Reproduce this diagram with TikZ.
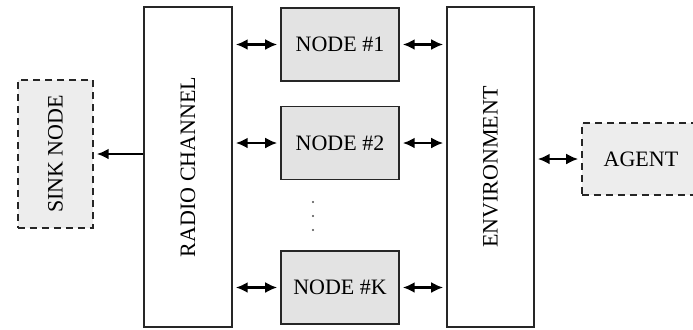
\documentclass[tikz,border=0pt]{standalone}
\usepackage{fontspec}
\setmainfont{Liberation Serif}
\usetikzlibrary{arrows.meta}
\begin{document}
\begin{tikzpicture}[x=0.5pt,y=-0.5pt,
  font=\fontsize{11}{13}\selectfont,
  block/.style={draw=black!85,line width=0.75pt,inner sep=0pt,align=center},
  tallbox/.style={block,fill=white,minimum height=160pt},
  nodebox/.style={block,fill=black!11,minimum width=59pt,minimum height=36.5pt},
  extbox/.style={block,fill=black!7,dash pattern=on 3.5pt off 2.5pt},
  link/.style={line width=1.2pt,shorten <=1.5pt,shorten >=1.5pt},
  both/.style={link,{Latex[length=6pt,width=5.5pt]}-{Latex[length=6pt,width=5.5pt]}},
  one/.style={link,-{Latex[length=6pt,width=5.5pt]}}
]
\clip (0,0) rectangle (693,329);

% radio channel and environment columns
\node[tallbox,minimum width=44pt] (rc) at (188,167) {};
\node[rotate=90] (rclabel) at (188,167) {RADIO CHANNEL};
\node[tallbox,minimum width=43.5pt] (env) at (490.5,167) {};
\node[rotate=90] (envlabel) at (490.5,167) {ENVIRONMENT};

% sensor nodes
\node[nodebox] (n1) at (340,44.5) {NODE \#1};
\node[nodebox] (n2) at (340,143) {NODE \#2};
\node[nodebox] (nk) at (340,287.5) {NODE \#K};

% vertical ellipsis between node #2 and node #K
\foreach \yy in {202,216,230} \fill[black!70] (313,\yy) circle (0.55pt);

% sink node and agent
\node[extbox,minimum width=37.5pt,minimum height=74pt] (sink) at (55.5,154) {};
\node[rotate=90] (sinklabel) at (55.5,154) {SINK NODE};
\node[extbox,minimum width=59pt,minimum height=36pt] (agent) at (641,159) {AGENT};

% connectors
\draw[one,shorten <=0pt] (rc.west |- sink.east) -- (sink.east);
\foreach \n in {n1,n2,nk}{
  \draw[both] (rc.east |- \n.west) -- (\n.west);
  \draw[both] (\n.east) -- (env.west |- \n.east);
}
\draw[both] (env.east |- agent.west) -- (agent.west);
\end{tikzpicture}
\end{document}
